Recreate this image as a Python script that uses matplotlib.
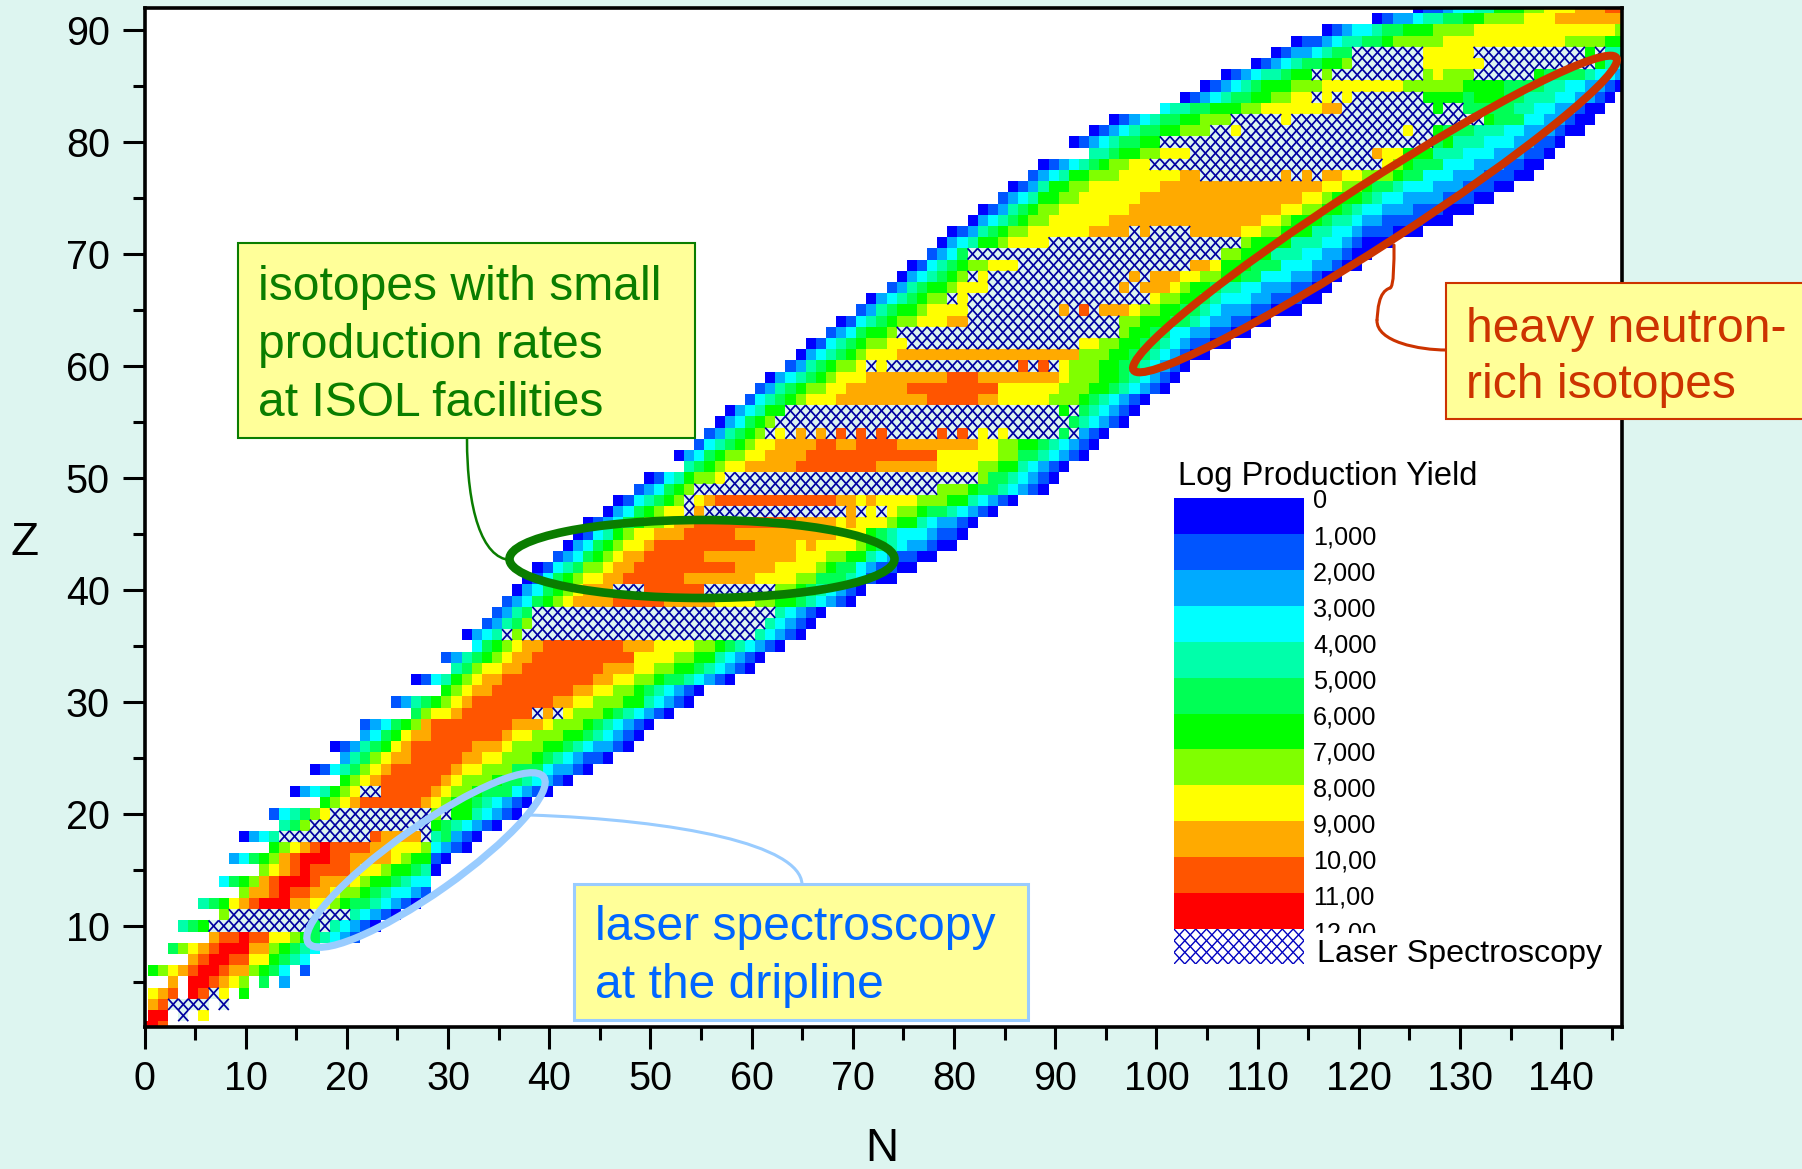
import numpy as np
import matplotlib
matplotlib.use('Agg')
import matplotlib.pyplot as plt
from matplotlib.colors import ListedColormap
from matplotlib.collections import LineCollection
from matplotlib.patches import Ellipse, Rectangle, PathPatch
from matplotlib.path import Path
from matplotlib.transforms import Bbox

plt.rcParams['font.family'] = ['Liberation Sans', 'DejaVu Sans']

FIG_W, FIG_H = 1802, 1169
BG = '#DDF5F0'

# yield classes, low to high, X = laser spectroscopy, _ = nothing measured
level_names = 'BMSCTEGLYORD'
level_colors = ['#0000FF', '#0055FF', '#00AAFF', '#00FFFF', '#00FFAA', '#00FF55',
                '#00FF00', '#80FF00', '#FFFF00', '#FFAA00', '#FF5500', '#FF0000']
level_labels = ['0', '1,000', '2,000', '3,000', '4,000', '5,000', '6,000',
                '7,000', '8,000', '9,000', '10,00', '11,00', '12,00']

# first N of every Z row, Z = 1 ... 92
first_n = [0, 1, 1, 1, 3, 1, 5, 3, 7, 4, 8, 6, 10, 8, 12, 9, 13, 10, 14, 13,
           18, 15, 20, 17, 20, 19, 22, 22, 27, 25, 30, 27, 31, 30, 33, 32, 34, 35, 36, 37,
           38, 39, 41, 42, 43, 44, 46, 47, 49, 50, 54, 53, 55, 56, 57, 58, 60, 61, 62, 64,
           65, 66, 68, 69, 71, 72, 74, 75, 76, 78, 79, 80, 82, 83, 85, 86, 88, 89, 94, 92,
           94, 96, 101, 103, 105, 107, 110, 112, 114, 117, 122, 126]

# runs along N for every Z row: class letter + number of cells
z_runs = [
    'D2 R1',
    'D2 _1 X1 _1 Y1',
    'O1 R1 X4 _1 X1',
    'Y1 O1 R1 _1 D1 R1 X1 Y1 _1 G1',
    'O1 _1 D2 R1 O1 Y1 L1 _1 E1 _1 S1',
    'G1 L1 Y1 O1 R1 D2 R1 O2 L1 G1 E1 C1 _1 M1',
    'O1 R1 D2 R2 Y2 G1 E1 T1 C1',
    'E1 L1 Y1 O1 R1 D3 O2 L1 G1 E1 T1 C1',
    'O1 R2 D1 R2 Y2 L1 G1 E1 T1 C1 S1 M1',
    'T1 E1 G1 X10 E1 X1 T1 C1 S1 M1 B1',
    'L1 X12 T1 C1 S1 M1 B1',
    'T1 E1 G1 Y1 O1 R1 D3 O2 Y2 L1 G1 E2 T1 C1 S1 M1 B1',
    'L1 O2 R1 D1 R2 O2 Y1 L2 G1 E1 T1 C2 S1 M1',
    'C1 E1 G1 L1 O1 R1 D3 R1 O3 Y1 L1 G2 E1 T1 C2',
    'L1 Y1 O1 R1 D1 R4 O1 Y2 L1 G2 E1 T1 B1',
    'S1 C1 E1 G1 L1 O1 R1 D3 R2 O4 Y1 L1 G2 M1 B1',
    'G1 L1 Y1 O1 R1 D1 R4 O2 Y3 L1 C1 S1 M1 B1',
    'B1 S1 C1 T1 X9 R1 O4 X1 T1 E1 S1 M1 B1',
    'T1 E1 L1 X12 G1 E1 T1 C1 S1 M1 B1',
    'M1 C1 T1 E1 L1 Y1 X10 L1 X1 G2 T1 C1 S1 M1 B1',
    'G1 L1 Y1 O1 R6 O1 Y1 L1 G2 E1 T1 C1 S1 M1 B1',
    'B1 S1 C1 T1 G1 L1 Y1 X2 R5 O1 Y1 L2 G1 E3 C1 S1 M1 B1',
    'G1 L1 Y1 O1 R6 O1 Y1 L3 G1 E2 T1 C1 S1 M1 B1',
    'B1 M1 C1 T1 E1 L1 Y1 O1 R6 O1 Y2 L3 E3 C1 S2 M1 B1',
    'S1 T1 E1 L1 Y1 O2 R5 O2 Y2 L3 G1 E1 T1 C1 S1 M2 B1',
    'B1 M1 S1 T1 E1 G1 Y1 O1 R6 O3 Y1 L3 G2 E1 T1 C1 S2 M1 B1',
    'S1 C1 E1 G1 Y1 O2 R7 O1 Y2 L3 G2 E1 T1 C1 S1 M1 B1',
    'M1 S1 C1 E1 G1 L1 O1 R8 O3 Y1 L3 G1 E1 T1 C1 S1 M1 B1',
    'E1 L1 Y2 O1 R7 X1 O1 X1 Y1 L3 G1 E1 T1 C1 S1 M1 B1',
    'M1 S1 T1 E1 G1 L1 Y1 O1 R8 O2 Y2 L3 G2 T1 C1 S1 M1 B1',
    'G1 L1 Y1 O2 R8 O2 Y2 L2 G1 E1 T1 C1 S1 M1 B1',
    'B1 M1 C1 T1 G1 L1 Y1 O2 R9 O2 Y2 L2 G1 E2 T1 C1 S1 M1 B1',
    'T1 E1 L1 Y2 O2 R8 O3 Y2 L2 G2 E1 T1 C1 S1 M1 B1',
    'M1 S1 T1 E1 G1 L1 Y1 O2 R10 Y4 L2 G2 T1 C1 S1 M1 B1',
    'C1 E1 G1 L1 Y1 O2 R8 O3 Y4 L2 G1 E1 T1 C1 S1 M1 B1',
    'B1 S1 C1 T1 X1 L1 X23 T1 C1 S1 M1 B1',
    'M1 S1 T1 E1 L1 X23 T1 C1 S1 M1 B1',
    'M1 S1 T1 E1 X24 T1 C1 S1 M1 B1',
    'M1 S1 C1 E1 G1 L1 Y1 O4 R5 O5 Y4 L2 G2 E1 T1 C1 S1 M1 B1',
    'B1 S1 C1 E1 G1 L1 Y1 O3 X3 R6 X7 L2 G1 E1 T1 C1 S1 M1 B1',
    'B1 M1 C1 E1 G1 L1 Y2 O2 R6 O7 Y4 L2 E3 T1 C1 M1 B2',
    'B1 M1 C1 T1 E1 L2 Y1 O2 R10 O4 Y4 L1 G1 E2 C1 S1 M2 B2',
    'M1 S1 C1 E1 G1 L1 Y1 O2 R6 O9 Y3 L2 G2 T1 C1 S1 M2 B2',
    'B1 S1 C1 E1 G1 L1 Y2 O1 R10 O4 Y1 O1 Y4 L1 G1 E1 T1 C1 S2 M1 B2',
    'B1 M1 C1 T1 G1 L1 Y2 O3 R5 O10 Y3 G1 E1 T1 C3 S1 M2 B1',
    'B1 M1 S1 C1 E1 G1 L2 Y1 O2 R10 O4 Y1 O1 Y3 L1 G2 T1 C1 S2 M1 B1',
    'B1 S1 C1 E1 G1 L1 Y2 X1 O1 X14 O1 X1 Y1 X1 Y1 L2 G1 E2 T1 C1 S1 M1 B1',
    'B1 M1 C1 T1 E1 G1 L1 X1 Y1 O1 R12 O2 Y1 O1 Y4 L3 G2 T1 C1 S1 M1 B1',
    'M1 S1 C1 E1 G1 L1 X24 L3 G1 E2 T1 C1 S1 M1 B1',
    'B1 M1 C1 T1 G1 L2 Y1 X25 L1 E2 T1 C1 S1 M1 B1',
    'T1 E1 G1 L1 Y2 O5 R8 O6 Y4 L2 G2 T1 C1 S1 M1 B1',
    'B1 S1 C1 E1 G1 L2 Y2 O4 R13 Y6 L2 E2 T1 C1 S1 M1 B1',
    'M1 C1 T1 E1 G1 L1 Y2 O4 R2 O2 R4 O8 Y2 L2 G2 E1 T1 C1 S1 M1 B1',
    'M1 S1 T1 E1 G1 L1 X1 Y1 X1 O1 X1 O1 X1 R1 X1 R1 X1 R1 X5 R1 X1 R1 X1 Y1 X1 Y1 X5 E1 X1 S1 M1 B1',
    'B1 S1 C1 E1 G1 L1 X29 E1 T1 C1 S1 M1 B1',
    'B1 S1 C1 T1 G2 X27 G1 X1 E1 T1 C1 S1 M1 B1',
    'M1 C1 T1 E1 G1 L1 Y3 O9 R5 O2 Y5 L3 G1 E1 T1 C1 S1 M1 B1',
    'M1 S1 T1 E1 G1 L2 Y2 O6 R9 Y6 L3 G2 E1 T1 C1 S1 M1 B1',
    'B1 S1 C1 T1 E1 G1 L1 Y3 O8 R3 O8 Y1 L3 G2 E1 T1 C1 S1 M1 B1',
    'M1 S1 T1 E1 G1 L2 Y1 X1 Y1 X13 R1 X1 R1 X1 Y1 L3 G2 E2 T1 C1 S1 M1 B1',
    'B1 S1 C1 T1 E1 G1 L1 Y3 O18 L3 G2 E2 T1 C1 S1 M1 B2',
    'B1 M1 C1 T1 E1 G1 L2 Y2 X17 Y2 L2 G2 E2 T1 C1 S1 M2 B2',
    'M1 S1 C1 E1 G2 L1 X22 L1 G2 E2 C2 S2 M2 B2',
    'B1 M1 C1 T1 E1 G1 L2 Y3 O2 X15 L2 G3 E2 T1 C1 S2 M2 B2',
    'M1 S1 T1 E1 G2 L1 Y4 X9 O1 X1 R1 X1 O3 Y1 L2 G2 E2 T1 C1 S3 M2 B3',
    'B1 S1 C1 T1 E1 G1 L2 X1 Y1 X18 Y1 L2 G2 E1 T1 C3 S2 M3 B2',
    'M1 S1 T1 E1 G2 L1 Y3 X13 O1 X1 O3 Y1 L1 G2 E1 T2 C2 S3 M2 B2',
    'B1 S1 C1 T1 E1 G1 L1 X1 Y1 X14 O1 X1 O3 Y2 L2 G2 E2 C3 S2 M1 B2',
    'B1 M1 C1 T1 E1 G1 L2 Y3 X17 O2 Y1 G3 E3 C3 S2 M1 B2',
    'M1 S1 C1 E1 X25 L2 G3 T3 C2 S2 M1 B2',
    'B1 S1 C1 T1 G2 L1 Y4 X19 L1 G4 T3 C2 S1 M1 B3',
    'B1 M1 S1 T1 E1 G1 L2 Y6 O4 X1 O1 X4 O5 Y2 L2 G3 T2 C2 S1 M3 B3',
    'B1 S1 C1 T1 E1 G1 L2 Y6 O15 Y2 L1 G3 E1 T2 C1 S2 M4 B3',
    'B1 M1 S1 T1 E1 G1 L2 Y7 O15 Y2 L2 G2 E1 T1 C2 S3 M3 B3',
    'M1 S1 C1 T1 G2 L2 Y6 O16 Y2 L1 G3 E1 T1 C2 S4 M3 B2',
    'B1 M1 S1 T1 G2 L2 Y7 O16 Y2 L2 G1 E2 T1 C3 S3 M3 B2',
    'M1 S1 C1 T1 G2 L3 Y6 O2 X8 O1 X1 O1 X1 O2 Y2 L3 G1 E2 C3 S3 M3 B2',
    'B1 M1 S1 C1 T1 E1 G1 L2 Y2 X23 Y1 L1 G1 E3 C3 S3 M2 B2',
    'T2 E1 G2 L2 Y3 X18 O1 Y2 G3 T3 C3 S3 M2 B1',
    'B1 M1 S1 C1 T1 E2 G2 X27 E1 G1 T3 C3 S2 M2 B1',
    'B1 M1 S1 C1 T1 E2 G2 L3 X2 Y1 X16 Y1 X2 G1 E3 T3 C2 S3 M1 B2',
    'B1 M1 S1 C1 T1 E2 G2 L3 X5 Y1 X19 G1 E3 C2 S2 M1 B2',
    'C1 T2 E2 G3 L2 Y6 O2 X9 G1 X2 E5 T2 C2 S2 M1 B2',
    'B1 M1 S1 C1 T1 E2 G2 L2 Y2 X1 Y1 X1 Y1 X7 G4 E1 G3 E2 T3 C2 S2 M1 B1',
    'B1 M1 S1 C1 T1 E1 G3 L3 Y8 L6 G4 E4 T2 C2 S2 M1 B1',
    'B1 M1 S1 C1 T2 E1 G2 X1 L1 X9 L1 Y1 L3 X6 G1 E4 T1 C2 S1',
    'B1 M1 S1 C1 T1 E2 G2 L1 X7 Y6 X11 G1 T1 C1',
    'B1 M1 S2 C1 T1 E2 X7 Y5 X11 G1 X1 T2',
    'B1 M2 S1 C1 T2 E2 G1 L5 Y12 L4 G2',
    'B1 M1 S1 C2 T1 E2 G3 L4 Y14 L1',
    'B1 M1 S2 C1 T2 E2 G2 L4 Y3 O7',
    'B1 M2 S1 C2 T2 G3 L2 Y3 O3 R2',
]

x_major = list(range(0, 141, 10))
x_minor = list(range(5, 146, 10))
y_major = list(range(10, 91, 10))
y_minor = list(range(5, 91, 10))


def px_rect(left, top, right, bottom):
    return [left / FIG_W, 1 - bottom / FIG_H, (right - left) / FIG_W, (bottom - top) / FIG_H]


def bezier(points, **kw):
    codes = [Path.MOVETO] + [Path.CURVE4] * (len(points) - 1)
    return PathPatch(Path(points, codes), fc='none', capstyle='round', **kw)


# fill the grid from the runs
grid = np.full((92, 147), np.nan)
hatched = []
for row, (start, runs) in enumerate(zip(first_n, z_runs)):
    n = start
    for run in runs.split():
        letter, count = run[0], int(run[1:])
        for col in range(n, n + count):
            if letter == 'X':
                grid[row, col] = 12
                hatched.append((col, row + 1))
            elif letter != '_':
                grid[row, col] = level_names.index(letter)
        n += count

fig = plt.figure(figsize=(FIG_W / 100, FIG_H / 100), dpi=100, facecolor=BG)
ax = fig.add_axes(px_rect(144.5, 7.6, 1622, 1026.8))

cmap = ListedColormap(level_colors + [BG])
n_edges = np.arange(148) - 0.67
z_edges = np.arange(1, 94) - 0.5
ax.pcolormesh(n_edges, z_edges, np.ma.masked_invalid(grid), cmap=cmap, vmin=-0.5, vmax=12.5,
              antialiased=False, linewidth=0)

# every hatched cell gets its two diagonals, which makes the lattice
segs = []
for col, z in hatched:
    l, r = col - 0.67, col + 0.33
    segs.append([(l, z - 0.5), (r, z + 0.5)])
    segs.append([(l, z + 0.5), (r, z - 0.5)])
ax.add_collection(LineCollection(segs, colors='#0000A0', linewidths=1.25))

ax.set_xlim(0, 146)
ax.set_ylim(1, 92)
ax.set_xticks(x_major)
ax.set_xticks(x_minor, minor=True)
ax.set_yticks(y_major)
ax.set_yticks(y_minor, minor=True)
ax.tick_params(which='major', length=16, width=2.2, labelsize=28.5)
ax.tick_params(which='minor', length=9, width=2.2)
ax.tick_params(axis='x', which='major', pad=8)
ax.tick_params(axis='y', which='major', pad=9)
for s in ax.spines.values():
    s.set_linewidth(2.6)

# legend colour bar
ax_bar = fig.add_axes(px_rect(1174, 498, 1304, 929))
ax_bar.pcolormesh([0, 1], np.arange(13), np.arange(12).reshape(-1, 1),
                  cmap=ListedColormap(level_colors), vmin=-0.5, vmax=11.5)
ax_bar.invert_yaxis()
ax_bar.axis('off')

ax_hatch = fig.add_axes(px_rect(1174, 929, 1304, 964))
ax_hatch.set_xlim(0, 12)
ax_hatch.set_ylim(0, 3)
hsegs = []
for i in range(12):
    for j in range(3):
        hsegs.append([(i, j), (i + 1, j + 1)])
        hsegs.append([(i, j + 1), (i + 1, j)])
ax_hatch.add_collection(LineCollection(hsegs, colors='#0000C0', linewidths=1.0))
ax_hatch.axis('off')

# overlay in pixels for the annotations
over = fig.add_axes([0, 0, 1, 1])
over.set_xlim(0, FIG_W)
over.set_ylim(FIG_H, 0)
over.axis('off')
over.patch.set_alpha(0)

GREEN = '#0A7D00'
BLUE = '#0066FF'
LBLUE = '#99CCFF'
RED = '#CC3300'
YELLOW = '#FFFF99'

over.add_patch(bezier([(467, 438), (467, 510), (482, 558), (510, 560)], ec=GREEN, lw=1.8))
over.add_patch(bezier([(529, 815), (680, 820), (800, 845), (802, 884)], ec=LBLUE, lw=2.2))
over.add_patch(bezier([(1394, 245), (1394, 262), (1394, 287), (1390, 288)], ec=RED, lw=2.2))
over.add_patch(bezier([(1390, 288), (1378, 292), (1378, 310), (1377, 320)], ec=RED, lw=2.2))
over.add_patch(bezier([(1377, 320), (1376, 342), (1420, 350), (1446, 350)], ec=RED, lw=2.2))

over.add_patch(Ellipse((702, 559), 385, 78, ec=GREEN, fc='none', lw=6.2))
over.add_patch(Ellipse((426, 860), 288, 66, angle=-35.2, ec=LBLUE, fc='none', lw=5.2))
over.add_patch(Ellipse((1375, 214), 575, 62, angle=-32.9, ec=RED, fc='none', lw=5.8))

over.add_patch(Rectangle((238, 243), 457, 195, fc=YELLOW, ec=GREEN, lw=1.5))
over.add_patch(Rectangle((574, 884), 454, 136, fc=YELLOW, ec=LBLUE, lw=2.2))
over.add_patch(Rectangle((1446, 283), 370, 136, fc=YELLOW, ec=RED, lw=1.5))

for y, s in zip([288, 345, 403], ['isotopes with small', 'production rates', 'at ISOL facilities']):
    over.text(258, y, s, color=GREEN, fontsize=34.6, va='center')
for y, s in zip([928, 986], ['laser spectroscopy', 'at the dripline']):
    over.text(595, y, s, color=BLUE, fontsize=34.6, va='center')
for y, s in zip([329, 386], ['heavy neutron-', 'rich isotopes']):
    over.text(1466, y, s, color=RED, fontsize=34.6, va='center')

over.text(1178, 477, 'Log Production Yield', fontsize=23.5, va='center')
over.text(1317, 954, 'Laser Spectroscopy', fontsize=23.2, va='center')
for i, s in enumerate(level_labels):
    t = over.text(1313, 501 + 36 * i, s, fontsize=18.2, va='center')
    t.set_clip_on(True)
    t.set_clip_box(Bbox([[1300, FIG_H - 933], [1420, FIG_H - 480]]))

over.text(882, 1149, 'N', fontsize=33, ha='center', va='center')
over.text(25, 543, 'Z', fontsize=33, ha='center', va='center')

fig.savefig('out.png', dpi=100, facecolor=BG)
